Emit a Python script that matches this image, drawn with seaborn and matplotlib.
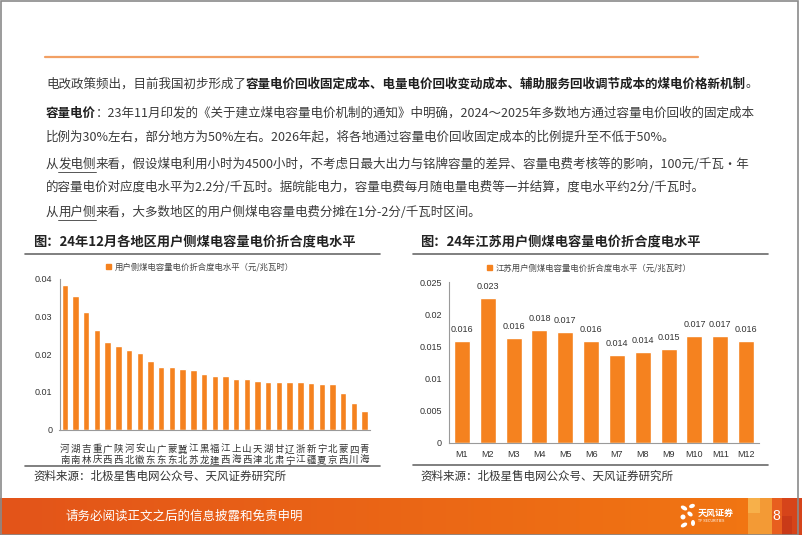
import matplotlib
matplotlib.use("Agg")
import matplotlib.pyplot as plt
import seaborn as sns
import numpy as np
import pandas as pd
from matplotlib.patches import Patch, Rectangle, Ellipse
from matplotlib.lines import Line2D
from matplotlib.transforms import Bbox, TransformedBbox

# data
regions = ["河南", "湖南", "吉林", "重庆", "广西", "陕西", "河北", "安徽", "山东", "广东",
           "蒙东", "冀北", "江苏", "黑龙江", "福建", "江西", "上海", "山西", "天津", "湖北",
           "甘肃", "辽宁", "浙江", "新疆", "宁夏", "北京", "蒙西", "四川", "青海"]
region_values = [0.0382, 0.0355, 0.0311, 0.0265, 0.0233, 0.0223, 0.0211, 0.0204, 0.0183, 0.0167,
                 0.0166, 0.0162, 0.0158, 0.0148, 0.0143, 0.0141, 0.0133, 0.0133, 0.0130, 0.0127,
                 0.0127, 0.0127, 0.0126, 0.0123, 0.0122, 0.0122, 0.0097, 0.0071, 0.0050]
region_yticks = [0, 0.01, 0.02, 0.03, 0.04]
region_ytick_labels = ["0", "0.01", "0.02", "0.03", "0.04"]

months = ["M1", "M2", "M3", "M4", "M5", "M6", "M7", "M8", "M9", "M10", "M11", "M12"]
jiangsu_values = [0.0158, 0.0226, 0.0163, 0.0176, 0.0172, 0.0158, 0.0137, 0.0142, 0.0146,
                  0.0166, 0.0167, 0.0158]
jiangsu_yticks = [0, 0.005, 0.01, 0.015, 0.02, 0.025]
jiangsu_ytick_labels = ["0", "0.005", "0.01", "0.015", "0.02", "0.025"]

title_left = "图：24年12月各地区用户侧煤电容量电价折合度电水平"
title_right = "图：24年江苏用户侧煤电容量电价折合度电水平"
legend_left = "用户侧煤电容量电价折合度电水平（元/兆瓦时）"
legend_right = "江苏用户侧煤电容量电价折合度电水平（元/兆瓦时）"
source = "资料来源：北极星售电网公众号、天风证券研究所"
footer = "请务必阅读正文之后的信息披露和免责申明"

# body text: (text, bold, underline)
body_lines = [
    (84, [("电改政策频出，目前我国初步形成了", False, False),
          ("容量电价回收固定成本、电量电价回收变动成本、辅助服务回收调节成本的煤电价格新机制", True, False),
          ("。", False, False)]),
    (113, [("容量电价", True, False),
           ("：23年11月印发的《关于建立煤电容量电价机制的通知》中明确，2024～2025年多数地方通过容量电价回收的固定成本", False, False)]),
    (137.5, [("比例为30%左右，部分地方为50%左右。2026年起，将各地通过容量电价回收固定成本的比例提升至不低于50%。", False, False)]),
    (164, [("从", False, False), ("发电侧", False, True),
           ("来看，假设煤电利用小时为4500小时，不考虑日最大出力与铭牌容量的差异、容量电费考核等的影响，100元/千瓦·年", False, False)]),
    (187, [("的容量电价对应度电水平为2.2分/千瓦时。据皖能电力，容量电费每月随电量电费等一并结算，度电水平约2分/千瓦时。", False, False)]),
    (212, [("从", False, False), ("用户侧", False, True),
           ("来看，大多数地区的用户侧煤电容量电费分摊在1分-2分/千瓦时区间。", False, False)]),
]

W, H = 802, 535
ORANGE = "#F5821F"
CJK = ["Noto Sans CJK SC", "DejaVu Sans"]
NUM = ["Liberation Sans", "DejaVu Sans"]

sns.set_style("white")
plt.rcParams["font.family"] = CJK
plt.rcParams["axes.unicode_minus"] = False

fig = plt.figure(figsize=(W / 100, H / 100), dpi=100)
renderer = fig.canvas.get_renderer()


def fx(px):
    return px / W


def fy(py):
    return 1 - py / H


def hline(x0, x1, y, color, lw):
    fig.add_artist(Line2D([fx(x0), fx(x1)], [fy(y), fy(y)], color=color, lw=lw,
                          transform=fig.transFigure))


def text_runs(x, y, runs, size=9):
    for s, bold, under in runs:
        t = fig.text(fx(x), fy(y), s, fontsize=size,
                     fontweight="bold" if bold else "normal",
                     color="#1e1e1e" if bold else "#3a3a3a", va="center", ha="left")
        bb = t.get_window_extent(renderer)
        if under:
            hline(x, x + bb.width, y + 7.5, "#3a3a3a", 0.6)
        x += bb.width


# header line and body text
hline(45, 698, 57, "#F2A064", 1.6)
for y, runs in body_lines:
    text_runs(46, y, runs)


def style_axes(ax, yticks, ylabels, n):
    ax.set_xlim(-0.5, n - 0.5)
    ax.set_ylim(yticks[0], yticks[-1])
    ax.set_yticks(yticks)
    ax.set_yticklabels(ylabels, family=NUM, fontsize=6.5, color="#333333")
    ax.set_xlabel("")
    ax.set_ylabel("")
    for side in ["top", "right"]:
        ax.spines[side].set_visible(False)
    for side in ["left", "bottom"]:
        ax.spines[side].set_color("#9a9a9a")
        ax.spines[side].set_linewidth(0.8)
    ax.tick_params(axis="y", length=3, width=0.8, color="#9a9a9a", pad=2)
    ax.set_xticks(np.arange(-0.5, n), minor=True)
    ax.tick_params(axis="x", which="major", length=0)


# left chart
ax1 = fig.add_axes([fx(59.5), fy(429.7), (370 - 59.5) / W, (429.7 - 278.7) / H])
df1 = pd.DataFrame({"region": regions, "value": region_values})
sns.barplot(data=df1, x="region", y="value", color=ORANGE, saturation=1, width=0.6, ax=ax1)
style_axes(ax1, region_yticks, region_ytick_labels, len(regions))
ax1.set_xticks(range(len(regions)))
ax1.set_xticklabels(["\n".join(r) for r in regions], fontsize=6.8, linespacing=1.25,
                    color="#333333")
ax1.tick_params(axis="x", which="major", length=0, pad=11)
ax1.tick_params(axis="x", which="minor", length=3, width=0.8, color="#6f9fd8")
clip = TransformedBbox(Bbox([[0, fy(466)], [1, 1]]), fig.transFigure)
for lbl in ax1.get_xticklabels():
    lbl.set_clip_box(clip)
    lbl.set_clip_on(True)
ax1.legend(handles=[Patch(color=ORANGE, label=legend_left)], loc="center",
           bbox_to_anchor=(0.4525, 1.077), frameon=False, fontsize=6,
           handlelength=0.6, handleheight=0.6, handletextpad=0.4, labelcolor="#444444")

# right chart
ax2 = fig.add_axes([fx(449), fy(442.7), (759 - 449) / W, (442.7 - 282.3) / H])
df2 = pd.DataFrame({"month": months, "value": jiangsu_values})
sns.barplot(data=df2, x="month", y="value", color=ORANGE, saturation=1, width=0.62, ax=ax2)
style_axes(ax2, jiangsu_yticks, jiangsu_ytick_labels, len(months))
ax2.set_xticks(range(len(months)))
ax2.set_xticklabels(months, family=NUM, fontsize=6.5, color="#333333")
ax2.tick_params(axis="x", which="major", length=0, pad=5)
ax2.tick_params(axis="x", which="minor", length=3, width=0.8, color="#9a9a9a")
ax2.bar_label(ax2.containers[0], labels=[f"{v:.3f}" for v in jiangsu_values], padding=5,
              fontsize=6.5, family=NUM, color="#333333")
ax2.legend(handles=[Patch(color=ORANGE, label=legend_right)], loc="center",
           bbox_to_anchor=(0.4516, 1.091), frameon=False, fontsize=6,
           handlelength=0.6, handleheight=0.6, handletextpad=0.4, labelcolor="#444444")

# titles, rules and sources
for x0, x1, tx, title, src_y in [(25, 380, 33, title_left, 466), (413, 768, 420, title_right, 465)]:
    fig.text(fx(tx), fy(241.5), title, fontsize=9.5, fontweight="bold", color="#222222",
             va="center")
    hline(x0, x1, 254.5, "#6a6a6a", 1.2)
    hline(x0, x1, src_y, "#6a6a6a", 1.2)
    fig.text(fx(tx), fy(476), source, fontsize=8.3, color="#333333", va="center")

# footer band
fax = fig.add_axes([0, 0, 1, 37 / H])
grad = np.linspace(0, 1, 400)
c0 = np.array([0.89, 0.33, 0.10])
c1 = np.array([0.95, 0.47, 0.07])
img = c0[None, :] + (c1 - c0)[None, :] * grad[:, None]
fax.imshow(img[None, :, :], aspect="auto", extent=[0, W, 535, 498])
fax.add_patch(Rectangle((748, 498), 24, 37, color="#F39A35", lw=0))
fax.add_patch(Rectangle((748, 498), 12, 15, color="#F7B04A", lw=0))
fax.add_patch(Rectangle((772, 498), 10, 37, color="#E85E1E", lw=0))
fax.add_patch(Rectangle((782, 498), 20, 37, color="#D6441A", lw=0))
fax.add_patch(Rectangle((782, 516), 10, 19, color="#C93A18", lw=0))
for cx, cy, w, h, ang in [(684, 508, 7, 4, 30), (692, 506, 6, 4, -20), (683, 517, 5, 5, 0),
                          (690, 514, 6, 4, 40), (684, 525, 7, 4, -30), (693, 523, 4, 6, 0)]:
    fax.add_patch(Ellipse((cx, cy), w, h, angle=ang, color="white", lw=0))
fax.text(698, 513, "天风证券", fontsize=6.5, fontweight="bold", color="white", va="center")
fax.text(698, 521, "TF SECURITIES", fontsize=2.5, family=NUM, color="white", va="center")
fax.text(66, 516, footer, fontsize=9, color="white", va="center")
fax.text(776, 516, "8", fontsize=10, family=NUM, color="white", va="center", ha="center")
fax.set_xlim(0, W)
fax.set_ylim(535, 498)
fax.axis("off")

# page frame
fig.add_artist(Rectangle((fx(0.5), fy(534.5)), fx(797.5), 534 / H, transform=fig.transFigure,
                         fill=False, ec="#8a8a8a", lw=1.2))

fig.savefig("out.png", dpi=100)
